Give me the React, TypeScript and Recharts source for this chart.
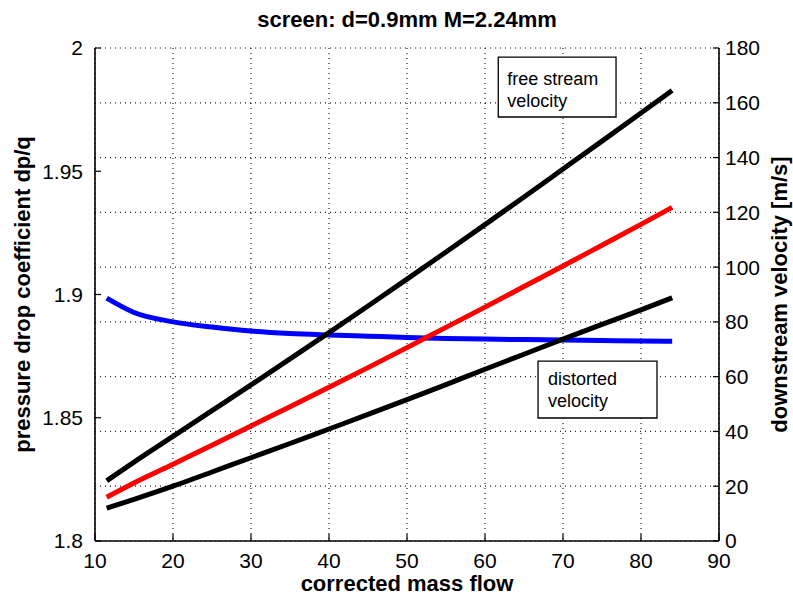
import React from 'react';
import {
  ComposedChart,
  Line,
  XAxis,
  YAxis,
  CartesianGrid,
  ReferenceArea,
} from 'recharts';

// ---- data ----
const massFlow = [11.5, 15, 20, 25, 30, 35, 40, 45, 50, 55, 60, 65, 70, 75, 80, 84];
const pressureDropCoeff = [
  1.8985, 1.8927, 1.8889, 1.8868, 1.8852, 1.8842, 1.8836, 1.8831, 1.8826, 1.8822, 1.8819,
  1.8817, 1.8815, 1.8813, 1.8811, 1.881,
];
const freeStreamVelocity = [22, 28.8, 38.2, 47.6, 57, 66.5, 76.1, 85.8, 95.6, 105.5, 115.5, 125.6, 135.8, 146, 156.3, 164.5];
const meanVelocity = [16, 21.2, 28, 35, 42, 49, 56.1, 63.3, 70.6, 78, 85.4, 92.9, 100.4, 108, 115.6, 121.8];
const distortedVelocity = [12, 15.2, 20, 25.2, 30.4, 35.6, 40.9, 46.2, 51.6, 57.1, 62.7, 68.2, 73.7, 79.1, 84.4, 88.8];

const xTicks = [10, 20, 30, 40, 50, 60, 70, 80, 90];
const leftTicks = [1.8, 1.85, 1.9, 1.95, 2];
const rightTicks = [0, 20, 40, 60, 80, 100, 120, 140, 160, 180];

const titleText = 'screen: d=0.9mm M=2.24mm';
const xLabel = 'corrected mass flow';
const leftLabel = 'pressure drop coefficient dp/q';
const rightLabel = 'downstream velocity [m/s]';
const freeStreamNote = ['free stream', 'velocity'];
const distortedNote = ['distorted', 'velocity'];

const data = massFlow.map((x, i) => ({
  x,
  dpq: pressureDropCoeff[i],
  free: freeStreamVelocity[i],
  mean: meanVelocity[i],
  dist: distortedVelocity[i],
}));

const FONT = '"Liberation Sans", Arial, Helvetica, sans-serif';
const tickStyle = { fontSize: 21, fill: '#000', fontFamily: FONT };

const noteContent = (lines: string[], dx: number, dy1: number, dy2: number) => (props: any) => {
  const vb = props.viewBox || {};
  return (
    <g>
      <text x={vb.x + dx} y={vb.y + dy1} fontSize={18} fontFamily={FONT} fill="#000">
        {lines[0]}
      </text>
      <text x={vb.x + dx} y={vb.y + dy2} fontSize={18} fontFamily={FONT} fill="#000">
        {lines[1]}
      </text>
    </g>
  );
};

export default function App() {
  return (
    <div style={{ position: 'absolute', left: 0, top: 0, width: 793, height: 598, background: '#fff' }}>
      <ComposedChart
        width={793}
        height={598}
        data={data}
        margin={{ top: 48, right: 24, bottom: 27, left: 35 }}
      >
        <CartesianGrid
          yAxisId="right"
          stroke="#222"
          strokeWidth={1.2}
          strokeDasharray="1 4"
        />
        <XAxis
          dataKey="x"
          type="number"
          domain={[10, 90]}
          ticks={xTicks}
          height={30}
          tick={tickStyle}
          tickSize={-7}
          tickMargin={19}
          axisLine={{ stroke: '#000', strokeWidth: 1.6 }}
          tickLine={{ stroke: '#000', strokeWidth: 1.2 }}
          interval={0}
          label={{
            content: (p: any) => {
              const vb = p.viewBox;
              return (
                <text
                  x={vb.x + vb.width / 2}
                  y={vb.y + 50}
                  textAnchor="middle"
                  fontSize={22}
                  fontWeight="bold"
                  fontFamily={FONT}
                  fill="#000"
                >
                  {xLabel}
                </text>
              );
            },
          }}
        />
        <YAxis
          yAxisId="left"
          orientation="left"
          type="number"
          domain={[1.8, 2]}
          ticks={leftTicks}
          width={60}
          tick={tickStyle}
          tickSize={-6}
          tickMargin={18}
          interval={0}
          axisLine={{ stroke: '#000', strokeWidth: 1.6 }}
          tickLine={{ stroke: '#000', strokeWidth: 1.2 }}
          label={{
            content: (p: any) => {
              const vb = p.viewBox;
              const cx = vb.x - 5;
              const cy = vb.y + vb.height / 2;
              return (
                <text
                  x={cx}
                  y={cy}
                  transform={`rotate(-90, ${cx}, ${cy})`}
                  textAnchor="middle"
                  fontSize={22}
                  fontWeight="bold"
                  fontFamily={FONT}
                  fill="#000"
                >
                  {leftLabel}
                </text>
              );
            },
          }}
        />
        <YAxis
          yAxisId="right"
          orientation="right"
          type="number"
          domain={[0, 180]}
          ticks={rightTicks}
          width={50}
          tick={tickStyle}
          tickSize={-6}
          tickMargin={12}
          interval={0}
          axisLine={{ stroke: '#000', strokeWidth: 1.6 }}
          tickLine={{ stroke: '#000', strokeWidth: 1.2 }}
          label={{
            content: (p: any) => {
              const vb = p.viewBox;
              const cx = vb.x + vb.width + 18;
              const cy = vb.y + vb.height / 2;
              return (
                <text
                  x={cx}
                  y={cy}
                  transform={`rotate(-90, ${cx}, ${cy})`}
                  textAnchor="middle"
                  fontSize={22}
                  fontWeight="bold"
                  fontFamily={FONT}
                  fill="#000"
                >
                  {rightLabel}
                </text>
              );
            },
          }}
        />
        <Line
          yAxisId="left"
          dataKey="dpq"
          type="monotone"
          stroke="#0000ff"
          strokeWidth={5}
          dot={false}
          isAnimationActive={false}
        />
        <Line
          yAxisId="right"
          dataKey="free"
          type="monotone"
          stroke="#000"
          strokeWidth={5}
          dot={false}
          isAnimationActive={false}
        />
        <Line
          yAxisId="right"
          dataKey="mean"
          type="monotone"
          stroke="#ff0000"
          strokeWidth={5}
          dot={false}
          isAnimationActive={false}
        />
        <Line
          yAxisId="right"
          dataKey="dist"
          type="monotone"
          stroke="#000"
          strokeWidth={5}
          dot={false}
          isAnimationActive={false}
        />
        <ReferenceArea
          yAxisId="right"
          x1={61.7}
          x2={76.8}
          y1={154.8}
          y2={176.7}
          fill="#fff"
          fillOpacity={1}
          stroke="#000"
          strokeWidth={1.3}
          label={noteContent(freeStreamNote, 9, 28, 50)}
        />
        <ReferenceArea
          yAxisId="right"
          x1={66.8}
          x2={82.05}
          y1={44.9}
          y2={65.7}
          fill="#fff"
          fillOpacity={1}
          stroke="#000"
          strokeWidth={1.3}
          label={noteContent(distortedNote, 10, 24, 46)}
        />
      </ComposedChart>
      <svg
        width={793}
        height={40}
        style={{ position: 'absolute', left: 0, top: 0, pointerEvents: 'none' }}
      >
        <text
          x={407}
          y={27}
          textAnchor="middle"
          fontSize={22}
          fontWeight="bold"
          fontFamily={FONT}
          fill="#000"
        >
          {titleText}
        </text>
      </svg>
    </div>
  );
}
